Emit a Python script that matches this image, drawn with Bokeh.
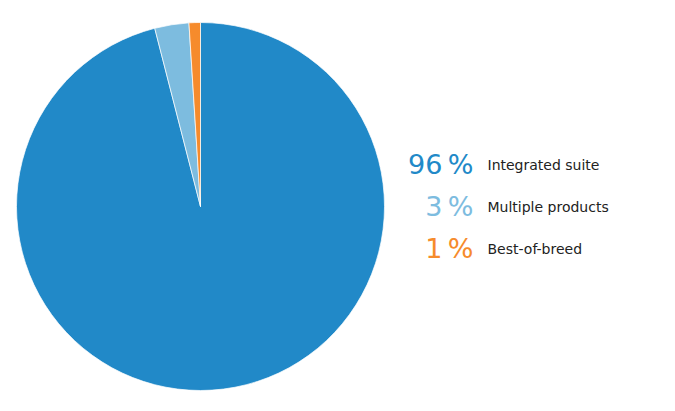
import math
from bokeh.plotting import figure
from bokeh.models import Range1d, ColumnDataSource
from bokeh.core.properties import value
from bokeh.embed import file_html
from bokeh.resources import INLINE

categories = ["Integrated suite", "Multiple products", "Best-of-breed"]
shares = [96, 3, 1]
colors = ["#2189c8", "#7dbcdf", "#f68b2c"]

W, H = 659, 395
p = figure(width=W, height=H, output_backend="svg", toolbar_location=None,
           x_range=Range1d(0, W), y_range=Range1d(0, H), min_border=0)
p.axis.visible = False
p.grid.visible = False
p.outline_line_color = None
p.background_fill_color = "white"

cx, cy, r = 200, 189, 184
total = sum(shares)
starts, ends = [], []
a = math.pi / 2
for s in shares:
    starts.append(a)
    a -= s / total * 2 * math.pi
    ends.append(a)

src = ColumnDataSource(dict(start=starts, end=ends, color=colors))
p.wedge(x=cx, y=cy, radius=r, start_angle="start", end_angle="end",
        direction="clock", fill_color="color", line_color="white",
        line_width=0.7, source=src)

row_y = [cy + 42 - 42 * i for i in range(len(categories))]
pct = [f"{s}\u2009%" for s in shares]
tsrc = ColumnDataSource(dict(y=row_y, pct=pct, label=categories, color=colors))
p.text(x=473, y="y", text="pct", text_color="color", text_align="right",
       text_baseline="middle", text_font=value("DejaVu Sans"),
       text_font_size="27px", source=tsrc)
p.text(x=487, y="y", text="label", text_color="#222222", text_align="left",
       text_baseline="middle", text_font=value("DejaVu Sans"),
       text_font_size="14px", source=tsrc)

open("out.html", "w").write(file_html(p, INLINE))
